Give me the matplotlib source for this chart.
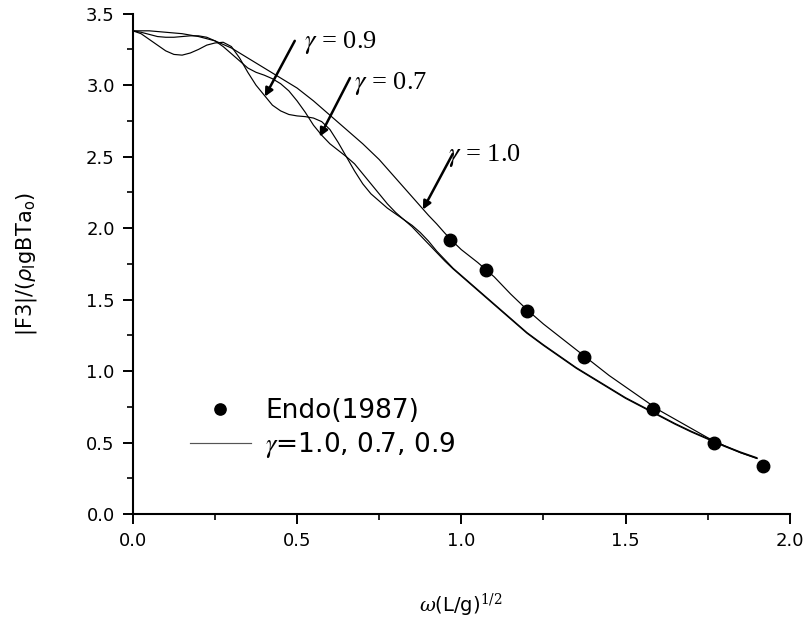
import matplotlib
matplotlib.use('Agg')
import matplotlib.pyplot as plt
import numpy as np

# grid used for the computed curves
x_curve = [0.000, 0.025, 0.050, 0.075, 0.100, 0.125, 0.150, 0.175, 0.200, 0.225,
           0.250, 0.275, 0.300, 0.325, 0.350, 0.375, 0.400, 0.425, 0.450, 0.475,
           0.500, 0.525, 0.550, 0.575, 0.600, 0.625, 0.650, 0.675, 0.700, 0.725,
           0.750, 0.775, 0.800, 0.825, 0.850, 0.875, 0.900, 0.925, 0.950, 0.975,
           1.000, 1.05, 1.10, 1.15, 1.20, 1.25, 1.30, 1.35, 1.40, 1.45,
           1.50, 1.55, 1.60, 1.65, 1.70, 1.75, 1.80, 1.85, 1.90]

f3_g10 = [3.38, 3.38, 3.38, 3.375, 3.37, 3.365, 3.36, 3.35, 3.34, 3.325,
          3.31, 3.285, 3.26, 3.225, 3.19, 3.155, 3.12, 3.085, 3.05, 3.015,
          2.98, 2.935, 2.89, 2.84, 2.79, 2.74, 2.69, 2.64, 2.59, 2.535,
          2.48, 2.415, 2.35, 2.285, 2.22, 2.155, 2.09, 2.03, 1.965, 1.905,
          1.85, 1.76, 1.66, 1.54, 1.43, 1.33, 1.24, 1.15, 1.06, 0.97,
          0.89, 0.81, 0.73, 0.665, 0.60, 0.535, 0.48, 0.43, 0.39]

f3_g09 = [3.38, 3.36, 3.32, 3.28, 3.24, 3.215, 3.21, 3.225, 3.25, 3.28,
          3.295, 3.30, 3.27, 3.19, 3.09, 3.00, 2.93, 2.86, 2.82, 2.795,
          2.785, 2.78, 2.77, 2.745, 2.69, 2.60, 2.50, 2.40, 2.31, 2.24,
          2.19, 2.14, 2.10, 2.06, 2.01, 1.95, 1.89, 1.83, 1.77, 1.715,
          1.665, 1.565, 1.465, 1.365, 1.265, 1.18, 1.10, 1.02, 0.95, 0.88,
          0.81, 0.75, 0.69, 0.63, 0.575, 0.525, 0.475, 0.43, 0.39]

f3_g07 = [3.38, 3.37, 3.355, 3.34, 3.335, 3.335, 3.34, 3.345, 3.345, 3.335,
          3.31, 3.27, 3.22, 3.17, 3.12, 3.09, 3.07, 3.045, 3.01, 2.96,
          2.89, 2.81, 2.72, 2.65, 2.59, 2.545, 2.50, 2.45, 2.38, 2.31,
          2.24, 2.17, 2.11, 2.06, 2.02, 1.97, 1.91, 1.84, 1.78, 1.72,
          1.67, 1.57, 1.47, 1.37, 1.27, 1.185, 1.105, 1.025, 0.955, 0.885,
          0.815, 0.755, 0.695, 0.635, 0.58, 0.53, 0.48, 0.435, 0.395]

# Endo (1987) measurements
x_endo = [0.965, 1.075, 1.20, 1.375, 1.585, 1.77, 1.92]
f3_endo = [1.915, 1.705, 1.42, 1.10, 0.735, 0.50, 0.335]

plt.rcParams['font.family'] = ['DejaVu Sans']

fig = plt.figure(figsize=(8.10, 6.21), dpi=100)
ax = fig.add_axes([0.164, 0.172, 0.811, 0.806])

lw = 0.85
ax.plot(x_curve, f3_g10, color='black', lw=lw)
ax.plot(x_curve, f3_g07, color='black', lw=lw)
ax.plot(x_curve, f3_g09, color='black', lw=lw,
        label=r'$\gamma$=1.0, 0.7, 0.9')
ax.plot(x_endo, f3_endo, 'o', color='black', ms=9, label='Endo(1987)')

# arrows + labels
notes = [('0.9', (0.402, 2.92), (0.493, 3.31), (0.522, 3.30)),
         ('0.7', (0.569, 2.64), (0.661, 3.05), (0.674, 3.01)),
         ('1.0', (0.883, 2.13), (0.974, 2.52), (0.960, 2.51))]
for val, tip, tail, txt in notes:
    ax.annotate('', xy=tip, xytext=tail,
                arrowprops=dict(arrowstyle='-|>', color='black', lw=1.8,
                                mutation_scale=12, shrinkA=0, shrinkB=0))
    ax.text(txt[0], txt[1], r'$\gamma$ = ' + val, fontsize=19,
            family='Liberation Serif', math_fontfamily='stix',
            va='center', ha='left')

ax.set_xlim(0, 2.0)
ax.set_ylim(0, 3.5)
ax.set_xticks([0.0, 0.5, 1.0, 1.5, 2.0])
ax.set_yticks([0.0, 0.5, 1.0, 1.5, 2.0, 2.5, 3.0, 3.5])
ax.set_xticks(np.arange(0.25, 2.0, 0.5), minor=True)
ax.set_yticks(np.arange(0.25, 3.5, 0.5), minor=True)
ax.set_xticklabels(['0.0', '0.5', '1.0', '1.5', '2.0'])
ax.set_yticklabels(['0.0', '0.5', '1.0', '1.5', '2.0', '2.5', '3.0', '3.5'])
ax.tick_params(which='major', direction='out', length=7, width=1.4,
               labelsize=13, pad=6)
ax.tick_params(which='minor', direction='out', length=4, width=1.2)
for s in ['top', 'right']:
    ax.spines[s].set_visible(False)
for s in ['left', 'bottom']:
    ax.spines[s].set_linewidth(1.5)

ax.set_xlabel(r'$\omega$(L/g)$^{1/2}$', fontsize=14, labelpad=30,
              math_fontfamily='dejavuserif')
ax.set_ylabel(r'|F3|/($\rho_{\rm I}$gBTa$_{\rm o}$)', fontsize=15,
              labelpad=34, math_fontfamily='dejavusans')

h, l = ax.get_legend_handles_labels()
leg = ax.legend(h[::-1], l[::-1], loc='upper left',
                bbox_to_anchor=(0.087, 0.232), frameon=False, fontsize=19,
                handlelength=2.3, handletextpad=0.55, labelspacing=0.22,
                borderpad=0, borderaxespad=0, markerscale=0.9)
leg.get_lines()[1].set_color('#555555')
leg.get_texts()[1].set_math_fontfamily('stix')

fig.savefig('out.png', dpi=100)
